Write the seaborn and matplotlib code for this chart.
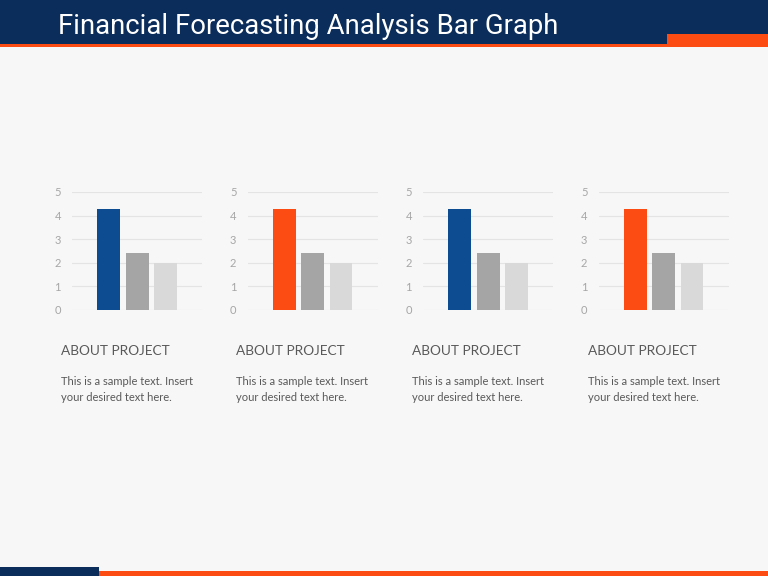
import matplotlib
matplotlib.use("Agg")
import matplotlib.pyplot as plt
from matplotlib.patches import Rectangle
import seaborn as sns
import pandas as pd

title = "Financial Forecasting Analysis Bar Graph"
categories = ["A", "B", "C"]
values = [4.3, 2.4, 2.0]
yticks = [0, 1, 2, 3, 4, 5]
panel_heads = ["ABOUT PROJECT"] * 4
panel_body = ["This is a sample text. Insert\nyour desired text here."] * 4
first_colors = ["#0E4C92", "#FC4C14", "#0E4C92", "#FC4C14"]
gray_colors = ["#A5A5A5", "#D9D9D9"]

NAVY = "#0B2D5B"
ORANGE = "#FC4C14"

sns.set_style("white")
plt.rcParams['font.family'] = ['Lato', 'DejaVu Sans']

W, H = 768, 576
fig = plt.figure(figsize=(7.68, 5.76), dpi=100)
fig.patch.set_facecolor("#F7F7F7")

def frect(x0, y0, x1, y1, color):
    # pixel coords from top-left
    fig.patches.append(Rectangle((x0 / W, 1 - y1 / H), (x1 - x0) / W, (y1 - y0) / H,
                                 transform=fig.transFigure, color=color, zorder=0, lw=0))

# header
frect(0, 0, W, 44, NAVY)
frect(0, 44, W, 47, ORANGE)
frect(667, 34, W, 47, ORANGE)
# footer
frect(0, 567, 99, H, NAVY)
frect(99, 571, W, H, ORANGE)

fig.text(58 / W, 1 - 26 / H, title, color="white", fontsize=19.8,
         family=['Roboto', 'DejaVu Sans'], va="center", ha="left")

step = 175.5
for i in range(4):
    left = 72 + i * step
    ax = fig.add_axes([left / W, 1 - 310 / H, 130 / W, 118 / H])
    ax.set_facecolor("none")
    df = pd.DataFrame({"cat": categories, "val": values})
    pal = [first_colors[i]] + gray_colors
    sns.barplot(data=df, x="cat", y="val", hue="cat", palette=pal, legend=False,
                width=0.8, ax=ax, saturation=1, zorder=3, linewidth=0)
    ax.set_xlim(-1.296, 3.285)
    ax.set_ylim(0, 5)
    ax.set_yticks(yticks)
    ax.set_yticklabels([str(t) for t in yticks])
    ax.set_xticks([])
    ax.set_xlabel("")
    ax.set_ylabel("")
    ax.grid(axis="y", color="#E4E4E4", lw=0.8, zorder=0)
    for s in ax.spines.values():
        s.set_visible(False)
    ax.tick_params(axis="y", length=0, pad=8, labelsize=8, labelcolor="#A6A6A6")

    tx = 61 + i * step
    fig.text(tx / W, 1 - 351 / H, panel_heads[i], color="#595959", fontsize=9.8,
             va="center", ha="left")
    fig.text(tx / W, 1 - 376 / H, panel_body[i], color="#595959", fontsize=8,
             va="top", ha="left", linespacing=1.55)

fig.savefig("out.png", dpi=100, facecolor=fig.get_facecolor())
